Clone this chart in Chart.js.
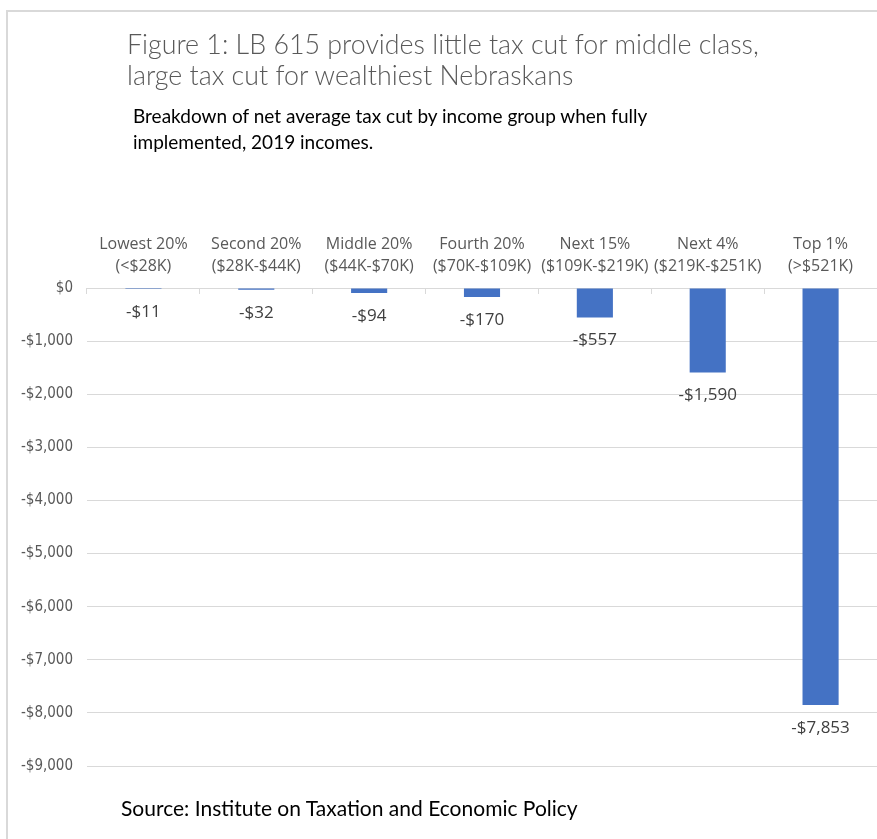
<!DOCTYPE html>
<html>
<head>
<meta charset="utf-8">
<script src="https://cdn.jsdelivr.net/npm/chart.js@4"></script>
<style>
  body { margin: 0; background: #fff; }
  #wrap { position: relative; width: 877px; height: 839px; overflow: hidden; }
  #frame { position: absolute; left: 6px; top: 10px; right: -5px; bottom: -5px;
           border-top: 2px solid #d9d9d9; border-left: 2px solid #d9d9d9; }
  #chart { position: absolute; left: 0; top: 0; }
  .txt { position: absolute; white-space: nowrap; font-family: Lato, "Open Sans", sans-serif; }
  #title { left: 127px; top: 29px; font-size: 26.8px; line-height: 31px; color: #595959; font-weight: 300; }
  #subtitle { left: 133px; top: 103px; font-size: 19px; line-height: 26px; color: #000; }
  #source { left: 121px; top: 795px; font-size: 21px; line-height: 26px; color: #000; }
</style>
</head>
<body>
<div id="wrap">
  <div id="frame"></div>
  <canvas id="chart" width="877" height="839"></canvas>
  <div class="txt" id="title">Figure 1: LB 615 provides little tax cut for middle class,<br>large tax cut for wealthiest Nebraskans</div>
  <div class="txt" id="subtitle">Breakdown of net average tax cut by income group when fully<br>implemented, 2019 incomes.</div>
  <div class="txt" id="source">Source: Institute on Taxation and Economic Policy</div>
</div>
<script>
// income groups (two-line labels)
var groups = [
    ['Lowest 20%', '(<$28K)'],
    ['Second 20%', '($28K-$44K)'],
    ['Middle 20%', '($44K-$70K)'],
    ['Fourth 20%', '($70K-$109K)'],
    ['Next 15%', '($109K-$219K)'],
    ['Next 4%', '($219K-$251K)'],
    ['Top 1%', '(>$521K)']
];
// net average tax change, dollars
var taxCut = [-11, -32, -94, -170, -557, -1590, -7853];

var yMin = -9000;
var yMax = 0;
var yStep = 1000;

function money(v) {
    if (v === 0) return '$0';
    var s = Math.abs(v).toLocaleString('en-US');
    return (v < 0 ? '-$' : '$') + s;
}

// draws the value under each bar
var valueLabels = {
    id: 'valueLabels',
    afterDatasetsDraw: function(chart) {
        var ctx = chart.ctx;
        var meta = chart.getDatasetMeta(0);
        ctx.save();
        ctx.font = '17px "Open Sans", sans-serif';
        ctx.fillStyle = '#404040';
        ctx.textAlign = 'center';
        ctx.textBaseline = 'middle';
        meta.data.forEach(function(bar, i) {
            ctx.fillText(money(taxCut[i]), bar.x, bar.y + 23);
        });
        ctx.restore();
    }
};

var ctx = document.getElementById('chart').getContext('2d');
var chart = new Chart(ctx, {
    type: 'bar',
    data: {
        labels: groups,
        datasets: [{
            data: taxCut,
            backgroundColor: '#4472C4',
            borderWidth: 0,
            minBarLength: 1,
            barPercentage: 0.64,
            categoryPercentage: 0.5
        }]
    },
    options: {
        responsive: false,
        animation: false,
        layout: { padding: { left: 0, right: 0, top: 0, bottom: 73 } },
        plugins: {
            legend: { display: false },
            tooltip: { enabled: false }
        },
        scales: {
            x: {
                position: 'top',
                grid: { drawOnChartArea: false, color: '#d9d9d9', tickLength: -6 },
                border: { color: '#d9d9d9' },
                ticks: {
                    color: '#595959',
                    font: { family: '"Open Sans", sans-serif', size: 16, lineHeight: 1.375 },
                    padding: 17,
                    maxRotation: 0,
                    autoSkip: false
                },
                afterFit: function(scale) { scale.height = 288; }
            },
            y: {
                min: yMin,
                max: yMax,
                grid: { color: '#d9d9d9', drawTicks: false },
                border: { display: false },
                ticks: {
                    stepSize: yStep,
                    color: '#595959',
                    padding: 14,
                    font: { family: '"Liberation Sans Narrow", "DejaVu Sans Condensed", sans-serif', size: 15 },
                    callback: function(v) { return money(v); }
                },
                afterFit: function(scale) { scale.width = 87; }
            }
        }
    },
    plugins: [valueLabels]
});
</script>
</body>
</html>
